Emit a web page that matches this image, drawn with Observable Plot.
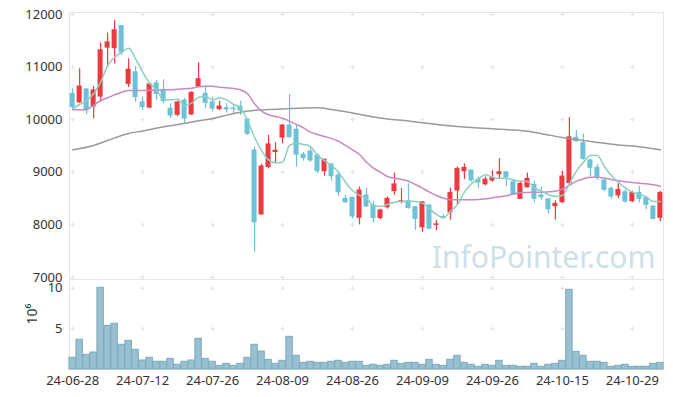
<!DOCTYPE html>
<html><head><meta charset="utf-8">
<script src="https://cdn.jsdelivr.net/npm/d3@7"></script>
<script src="https://cdn.jsdelivr.net/npm/@observablehq/plot@0.6"></script>
<style>
body{margin:0;background:#fff;}
#chart{position:relative;width:673px;height:397px;}
#chart svg{position:absolute;left:0;overflow:visible;}
</style></head><body><div id="chart"></div>
<script>
const open  = [10490,10330,10575,10250,10440,11370,11360,11780,10680,10900,10330,10230,10690,10555,10210,10093,10365,10100,10630,10490,10330,10200,10220,10210,10245,10000,9415,8200,9100,9385,9660,9890,9810,9335,9395,9320,9020,9150,8940,8495,8515,8135,8560,8370,8130,8335,8640,8440,8450,8335,7955,8370,8000,8150,8240,8655,9020,9035,8860,8770,8845,8965,9000,8810,8495,8715,8760,8560,8485,8355,8430,8795,9655,9555,9225,9085,8845,8685,8560,8620,8450,8605,8510,8350,8135];
const high  = [10590,10970,10590,10630,11460,11650,11890,11780,11160,11010,10430,10680,10750,10760,10300,10350,10400,10530,11080,10620,10430,10350,10310,10285,10350,10010,9480,9150,9700,9560,9910,10475,9890,9380,9460,9350,9255,9160,9020,8560,8530,8720,8700,8450,8300,8530,8985,8690,8780,8340,8440,8380,8084,8190,8700,9100,9160,9040,8910,8910,9030,9255,9010,8870,8830,8985,8830,8715,8500,8460,9020,10035,9795,9730,9250,9150,8900,8720,8780,8670,8640,8730,8550,8360,8640];
const low   = [10175,10310,10100,10020,10330,11000,11060,11220,10610,10330,10175,10210,10370,10300,10020,10060,9935,10080,10610,10210,10150,10175,10125,10100,10080,9700,7480,8180,9065,9175,9540,9650,9100,9210,9190,8970,8925,8830,8540,8410,8110,8000,8330,8032,8095,8300,8560,8400,8300,7895,7860,7920,7894,8110,8090,8370,8860,8810,8690,8740,8810,8880,8730,8560,8490,8700,8420,8460,8210,8090,8410,8750,9570,9230,8920,8850,8630,8490,8500,8410,8420,8420,8290,8100,8060];
const close = [10240,10630,10175,10555,11320,11470,11700,11280,10950,10430,10240,10670,10490,10350,10080,10327,10020,10510,10770,10320,10210,10250,10195,10200,10175,9730,8050,9110,9530,9410,9890,9670,9335,9270,9225,9020,9237,8925,8620,8430,8160,8655,8350,8130,8275,8495,8770,8450,8320,8115,8430,7925,8010,8130,8605,9065,9085,8845,8805,8860,8890,9000,8905,8580,8780,8875,8495,8525,8295,8400,8920,9665,9590,9255,9085,8890,8665,8540,8665,8445,8605,8495,8380,8115,8605];
const volume = [1.44,3.65,1.81,2.09,10.05,5.37,5.62,3.04,3.53,2.42,1.11,1.44,0.95,0.95,1.31,0.58,0.95,1.11,3.77,1.31,0.95,0.45,0.70,0.45,0.70,1.44,3.04,2.21,1.19,0.70,1.07,4.02,1.68,0.82,0.95,0.82,0.82,0.95,1.07,0.82,0.95,0.95,0.45,0.58,0.45,0.58,1.07,0.70,0.82,0.82,0.58,1.19,0.58,0.45,1.19,1.68,0.82,0.58,0.33,0.58,0.45,1.07,0.45,0.45,0.33,0.33,0.70,0.33,0.58,0.70,1.07,9.80,2.17,1.68,0.95,0.95,0.82,0.33,0.45,0.58,0.33,0.33,0.33,0.70,0.82];
const ma5  = [10207,10289,10365,10492,10713,11030,11188,11283,11359,11158,10903,10694,10568,10378,10378,10390,10270,10314,10428,10441,10378,10416,10378,10289,10226,9985,9667,9414,9237,9180,9192,9510,9553,9529,9490,9319,9224,9129,9002,8812,8654,8560,8502,8369,8350,8388,8432,8445,8451,8445,8413,8306,8198,8135,8261,8388,8622,8781,8876,8952,8907,8888,8888,8850,8831,8825,8705,8641,8578,8540,8559,8781,9021,9192,9319,9319,9110,8939,8812,8705,8622,8578,8527,8445,8445];
const ma20 = [10188,10188,10200,10270,10365,10416,10473,10523,10555,10555,10555,10561,10561,10568,10568,10580,10587,10599,10625,10637,10637,10618,10606,10593,10568,10492,10302,10162,10093,10061,10029,9972,9909,9846,9763,9719,9681,9645,9591,9510,9427,9338,9190,9078,9002,8920,8888,8863,8831,8768,8699,8622,8559,8508,8477,8477,8477,8477,8483,8496,8515,8534,8553,8585,8610,8616,8622,8622,8629,8641,8680,8755,8831,8876,8907,8907,8888,8863,8838,8819,8806,8793,8781,8762,8736];
const ma120Idx = [0,3,5,8,10,13,15,18,20,23,25,28,30,33,35,37,40,43,45,48,50,53,55,58,60,63,65,68,70,73,75,78,80,83,84];
const ma120    = [9428,9510,9605,9738,9785,9865,9909,9979,10023,10118,10165,10194,10203,10222,10226,10194,10127,10051,10013,9975,9941,9896,9871,9842,9827,9804,9779,9709,9662,9605,9567,9519,9500,9447,9428];
const tickIdx = [0,10,20,30,40,50,60,70,80];
const tickLabels = ["24-06-28","24-07-12","24-07-26","24-08-09","24-08-26","24-09-09","24-09-26","24-10-15","24-10-29"];
const priceTicks = [7000,8000,9000,10000,11000,12000];
const volTicks = [5,10];

const UP = "#ee3a3f", DOWN = "#6cc3d8";
const rows = open.map((o,i)=>({i, o, h:high[i], l:low[i], c:close[i], v:volume[i], col: close[i] >= o ? UP : DOWN}));
const m5 = ma5.map((v,i)=>({i, v}));
const m20 = ma20.map((v,i)=>({i, v}));
const m120 = ma120.map((v,k)=>({i:ma120Idx[k], v}));
const crossTop = tickIdx.flatMap(x=>priceTicks.map(y=>({x,y})));
const crossBot = tickIdx.flatMap(x=>volTicks.map(y=>({x,y})));
const font = '"Noto Sans", sans-serif';
const xDom = [-0.45, 84.45];
const style = {fontFamily: font, fontSize: "13px", color: "#333", background: "transparent", overflow: "visible"};

const priceChart = Plot.plot({
  width: 673, height: 279, marginLeft: 69, marginRight: 10, marginTop: 12, marginBottom: 0,
  style,
  x: {domain: xDom, axis: null},
  y: {domain: [6962, 12038], axis: null},
  color: {type: "identity"},
  marks: [
    Plot.frame({stroke: "#e6e6e6"}),
    Plot.dot(crossTop, {x: "x", y: "y", symbol: "plus", r: 1.6, stroke: "#e2e2e2", strokeWidth: 1}),
    Plot.text(["InfoPointer.com"], {frameAnchor: "bottom-right", dx: -8, dy: -12, textAnchor: "end", lineAnchor: "bottom", fontSize: 30, fill: "#cddfe8", fontFamily: font}),
    Plot.axisY({ticks: priceTicks, tickSize: 0, tickPadding: 7, tickFormat: d => String(d), label: null}),
    Plot.ruleX(rows, {x: "i", y1: "l", y2: "h", stroke: "col", strokeWidth: 1.2}),
    Plot.rect(rows, {x1: d => d.i - 0.36, x2: d => d.i + 0.36, y1: "o", y2: "c", fill: "col", insetTop: -0.5, insetBottom: -0.5}),
    Plot.line(m120, {x: "i", y: "v", stroke: "#9a9a9a", strokeWidth: 1.5, curve: "monotone-x"}),
    Plot.line(m20, {x: "i", y: "v", stroke: "#c98ac3", strokeWidth: 1.5, curve: "monotone-x"}),
    Plot.line(m5, {x: "i", y: "v", stroke: "#8ccfc0", strokeWidth: 1.5, curve: "monotone-x"})
  ]
});

const volChart = Plot.plot({
  width: 673, height: 118, marginLeft: 69, marginRight: 10, marginTop: 0, marginBottom: 28,
  style,
  x: {domain: xDom},
  y: {domain: [0, 11.07]},
  marks: [
    Plot.frame({stroke: "#e6e6e6"}),
    Plot.dot(crossBot, {x: "x", y: "y", symbol: "plus", r: 1.6, stroke: "#e2e2e2", strokeWidth: 1}),
    Plot.rectY(rows, {x1: d => d.i - 0.46, x2: d => d.i + 0.46, y: "v", fill: "#98c0d1", stroke: "#7eaabd", strokeWidth: 1}),
    Plot.axisY({ticks: volTicks, tickSize: 0, tickPadding: 7, label: null}),
    Plot.axisX({ticks: tickIdx, tickSize: 0, tickPadding: 6, tickFormat: d => tickLabels[tickIdx.indexOf(d)], label: null}),
    Plot.text(["10⁶"], {frameAnchor: "left", dx: -37, rotate: -90, fontSize: 14, fill: "#333"})
  ]
});

const chart = document.getElementById("chart");
priceChart.style.top = "0px";
volChart.style.top = "279px";
chart.appendChild(priceChart);
chart.appendChild(volChart);
</script></body></html>
